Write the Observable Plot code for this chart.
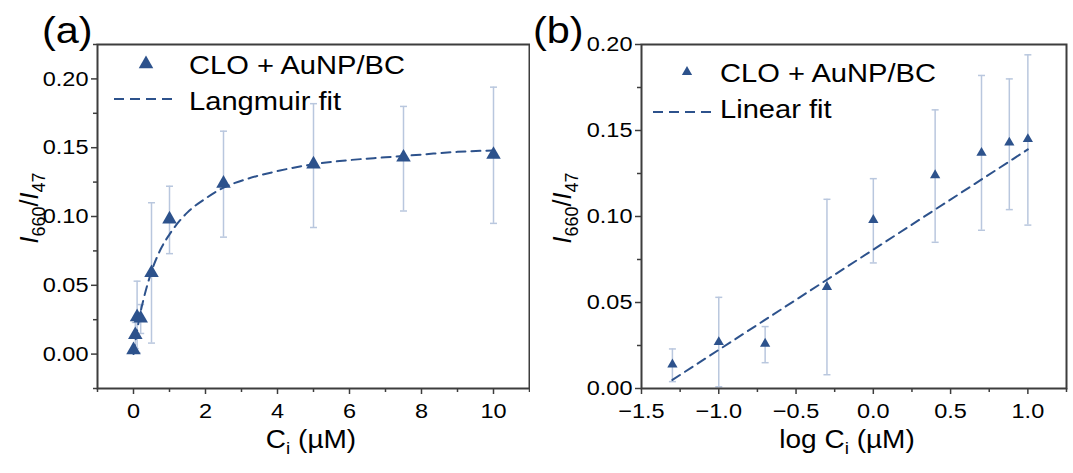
<!DOCTYPE html>
<html><head><meta charset="utf-8">
<script src="https://cdn.jsdelivr.net/npm/d3@7"></script>
<script src="https://cdn.jsdelivr.net/npm/@observablehq/plot@0.6"></script>
<style>
html,body{margin:0;padding:0;background:#fff;}
#wrap{display:flex;width:1073px;height:473px;overflow:hidden;}
#wrap svg{display:block;overflow:visible;}
</style></head><body><div id="wrap"></div>
<script>
// ---- data ----
const conc      = [0, 0.05, 0.1, 0.2, 0.5, 1, 2.5, 5, 7.5, 10];
const ratio     = [0.003, 0.014, 0.027, 0.026, 0.059, 0.098, 0.124, 0.138, 0.143, 0.145];
const errLow    = [0.003, 0.004, 0.001, 0.015, 0.008, 0.073, 0.085, 0.092, 0.104, 0.095];
const errHigh   = [0.003, 0.023, 0.053, 0.036, 0.110, 0.122, 0.162, 0.182, 0.180, 0.194];
const logConc   = [-1.30, -1.00, -0.70, -0.30, 0.00, 0.40, 0.70, 0.88, 1.00];
const ratioB    = [0.014, 0.027, 0.026, 0.059, 0.098, 0.124, 0.137, 0.143, 0.145];
const errLowB   = [0.004, 0.001, 0.015, 0.008, 0.073, 0.085, 0.092, 0.104, 0.095];
const errHighB  = [0.023, 0.053, 0.036, 0.110, 0.122, 0.162, 0.182, 0.180, 0.194];
const langX     = [0, 0.1, 0.2, 0.3, 0.5, 0.75, 1, 1.5, 2, 2.5, 3, 4, 5, 6, 7, 8, 9, 10];
const langY     = [0.000, 0.017, 0.031, 0.042, 0.060, 0.076, 0.087, 0.103, 0.113, 0.121, 0.126, 0.133, 0.138, 0.141, 0.143, 0.145, 0.147, 0.148];
const linX      = [-1.30, 1.00];
const linY      = [0.005, 0.139];
const xTicksA   = [0, 2, 4, 6, 8, 10];
const xMinorA   = [-1, 1, 3, 5, 7, 9, 11];
const yTicksA   = [0, 0.05, 0.10, 0.15, 0.20];
const yMinorA   = [-0.025, 0.025, 0.075, 0.125, 0.175, 0.225];
const xTicksB   = [-1.5, -1.0, -0.5, 0.0, 0.5, 1.0];
const xMinorB   = [-1.25, -0.75, -0.25, 0.25, 0.75, 1.25];
const yTicksB   = [0, 0.05, 0.10, 0.15, 0.20];
const yMinorB   = [0.025, 0.075, 0.125, 0.175];
const seriesName = "CLO + AuNP/BC";

// ---- style ----
const BLUE = "#2d528c", ERR = "#b9c7de", AX = "#3d3d3d";
const FONT = "'Liberation Sans', Arial, sans-serif";
const SX = 1.12; // horizontal text stretch seen in the reference

const capSymbol = {draw(ctx, size){ const r = Math.sqrt(size/Math.PI); ctx.moveTo(-r,0); ctx.lineTo(r,0); }};
const minus = s => s.replace("-", "\u2212");

function axes(xt, xm, yt, ym, xfmt){
  return [
    Plot.axisX(xt, {tickSize:6, tickPadding:9, stroke:AX, strokeWidth:1.5, fill:"black", tickFormat:xfmt, label:null, fontSize:21}),
    Plot.axisX(xm, {tickSize:4, stroke:AX, strokeWidth:1.5, tickFormat:()=>"", label:null}),
    Plot.axisY(yt, {tickSize:6, tickPadding:3, stroke:AX, strokeWidth:1.5, fill:"black", tickFormat:d3.format(".2f"), label:null, fontSize:21}),
    Plot.axisY(ym, {tickSize:4, stroke:AX, strokeWidth:1.5, tickFormat:()=>"", label:null}),
  ];
}

function plotPanel(o){
  const idx = d3.range(o.x.length);
  const eidx = idx.filter(i => o.hi[i] - o.lo[i] > 0.001);
  const fidx = d3.range(o.fx.length);
  return Plot.plot({
    width:o.width, height:473,
    marginLeft:o.ml, marginRight:o.mr, marginTop:44, marginBottom:85,
    style:{fontFamily:FONT, color:"black", background:"white"},
    x:{domain:o.xd}, y:{domain:o.yd},
    marks:[
      Plot.ruleX(eidx, {x:i=>o.x[i], y1:i=>o.lo[i], y2:i=>o.hi[i], stroke:ERR, strokeWidth:1.5}),
      Plot.dot(eidx, {x:i=>o.x[i], y:i=>o.lo[i], symbol:capSymbol, r:3.5, stroke:ERR, strokeWidth:1.5, fill:"none"}),
      Plot.dot(eidx, {x:i=>o.x[i], y:i=>o.hi[i], symbol:capSymbol, r:3.5, stroke:ERR, strokeWidth:1.5, fill:"none"}),
      Plot.line(fidx, {x:i=>o.fx[i], y:i=>o.fy[i], stroke:BLUE, strokeWidth:2, strokeDasharray:"9,6", curve:"monotone-x"}),
      Plot.dot(idx, {x:i=>o.x[i], y:i=>o.y[i], symbol:"triangle", r:o.r, fill:BLUE, stroke:"none"}),
      ...axes(o.xt, o.xm, o.yt, o.ym, o.xfmt),
      Plot.frame({stroke:AX, strokeWidth:2})
    ]
  });
}

function decorate(svg, o){
  const s = d3.select(svg);
  s.selectAll("g[aria-label$='tick label'] text").each(function(){
    const t = this.getAttribute("transform") || "";
    this.setAttribute("transform", t + ` scale(${SX},1)`);
  });
  const g = s.append("g").attr("font-family", FONT).attr("fill", "black");
  const txt = (x, y, size, anchor) => g.append("text")
      .attr("transform", `translate(${x},${y}) scale(${SX},1)`)
      .attr("font-size", size).attr("text-anchor", anchor||"start");
  txt(o.pl[0], o.pl[1], 37).text(o.panel);
  g.append("path").attr("transform", `translate(${o.lt[0]},${o.lt[1]})`)
    .attr("d", d3.symbol(d3.symbolTriangle, Math.PI*o.lr*o.lr)()).attr("fill", BLUE);
  txt(o.lx, o.ly1, 26).text(seriesName);
  g.append("line").attr("x1", o.ld[0]).attr("x2", o.ld[1]).attr("y1", o.ld[2]).attr("y2", o.ld[2])
    .attr("stroke", BLUE).attr("stroke-width", 2).attr("stroke-dasharray", "10,6");
  txt(o.lx, o.ly2, 26).text(o.fitName);
  const xl = txt(o.xl[0], o.xl[1], 25, "middle");
  if (o.logLabel) xl.append("tspan").text("log ");
  xl.append("tspan").text("C");
  xl.append("tspan").attr("font-size", 17).attr("dy", 6).text("i");
  xl.append("tspan").attr("dy", -6).text(" (\u00b5M)");
  const yl = g.append("text").attr("transform", `translate(${o.yl[0]},${o.yl[1]}) rotate(-90)`)
    .attr("font-size", 25).attr("text-anchor", "middle");
  yl.append("tspan").attr("font-style", "italic").text("I");
  yl.append("tspan").attr("font-size", 18).attr("dy", 7).text("660");
  yl.append("tspan").attr("dy", -7).text("/");
  yl.append("tspan").attr("font-style", "italic").text("I");
  yl.append("tspan").attr("font-size", 18).attr("dy", 7).text("47");
}

const wrap = document.getElementById("wrap");

const A = plotPanel({width:530, ml:97, mr:1, xd:[-1,11], yd:[-0.025,0.225],
  x:conc, y:ratio, lo:errLow, hi:errHigh, fx:langX, fy:langY, r:5.4,
  xt:xTicksA, xm:xMinorA, yt:yTicksA, ym:yMinorA, xfmt:d=>String(d)});
decorate(A, {panel:"(a)", pl:[42,43], lt:[146,64], lr:5.4, lx:189, ly1:74, ld:[114,176,99], ly2:110,
  fitName:"Langmuir fit", xl:[311,448], yl:[38,208]});
wrap.appendChild(A);

const B = plotPanel({width:543, ml:111, mr:7, xd:[-1.5,1.25], yd:[0,0.2],
  x:logConc, y:ratioB, lo:errLowB, hi:errHighB, fx:linX, fy:linY, r:3.8,
  xt:xTicksB, xm:xMinorB, yt:yTicksB, ym:yMinorB, xfmt:d=>minus(d.toFixed(1))});
decorate(B, {panel:"(b)", pl:[3,43], lt:[157,72], lr:3.8, lx:190, ly1:82, ld:[123,183,112], ly2:118,
  fitName:"Linear fit", logLabel:true, xl:[317,448], yl:[41,208]});
wrap.appendChild(B);
</script></body></html>
